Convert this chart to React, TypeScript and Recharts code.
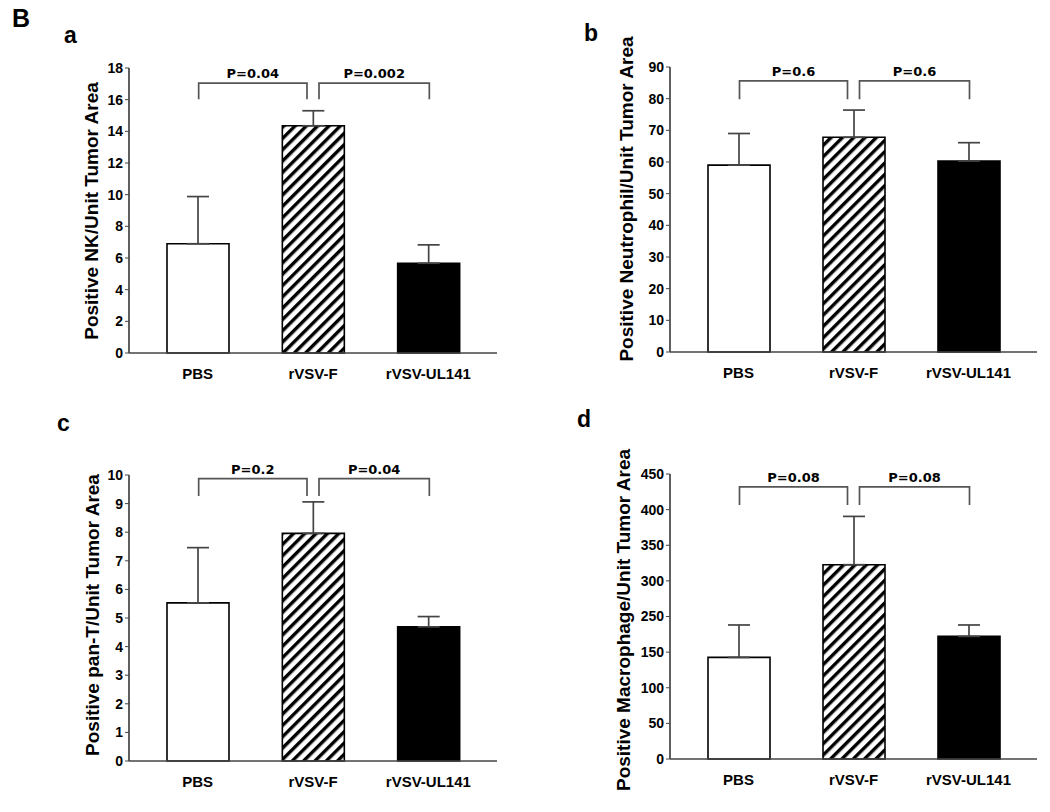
import { BarChart, Bar, XAxis, YAxis, Cell, ErrorBar, ReferenceLine, Label } from 'recharts';

const categories = ['PBS', 'rVSV-F', 'rVSV-UL141'];

// a: NK
const nkMeans = [6.9, 14.35, 5.67];
const nkErrors = [2.98, 0.95, 1.16];
const nkTicks = [0, 2, 4, 6, 8, 10, 12, 14, 16, 18];
const nkP = ['P=0.04', 'P=0.002'];
const nkBracket = [17.05, 16.03];

// b: neutrophil
const neuMeans = [59.0, 67.8, 60.3];
const neuErrors = [10.0, 8.6, 5.8];
const neuTicks = [0, 10, 20, 30, 40, 50, 60, 70, 80, 90];
const neuP = ['P=0.6', 'P=0.6'];
const neuBracket = [85.6, 79.8];

// c: pan-T
const panMeans = [5.53, 7.96, 4.69];
const panErrors = [1.93, 1.1, 0.36];
const panTicks = [0, 1, 2, 3, 4, 5, 6, 7, 8, 9, 10];
const panP = ['P=0.2', 'P=0.04'];
const panBracket = [9.87, 9.27];

// d: macrophage (tick labels as printed in the figure)
const macMeans = [142.6, 272.7, 172.1];
const macErrors = [45.5, 67.8, 16.0];
const macTicks = [0, 50, 100, 150, 200, 250, 300, 350, 400];
const macTickLabels = ['0', '50', '100', '150', '250', '300', '350', '400', '450'];
const macP = ['P=0.08', 'P=0.08'];
const macBracket = [382, 356.5];

const FONT = '"Liberation Sans", Arial, sans-serif';
const AXIS = '#444';

function bracketShape(label: string, dxA: number, dxB: number) {
  return (p: any) => {
    const xa = p.x1 + dxA;
    const xb = p.x2 + dxB;
    return (
      <g>
        <path d={`M${xa},${p.y2}V${p.y1}H${xb}V${p.y2}`} fill="none" stroke="#555" strokeWidth={1.7} />
        <text x={(xa + xb) / 2} y={p.y1 - 5} textAnchor="middle" fontFamily='"DejaVu Sans", sans-serif'
          fontWeight="bold" fontSize={13} fill="#000">{label}</text>
      </g>
    );
  };
}

type PanelProps = {
  id: string;
  letter: string;
  title: string;
  means: number[];
  errors: number[];
  ticks: number[];
  tickLabels?: string[];
  pLabels: string[];
  bracket: number[];
  left: number;
  top: number;
  margin: { top: number; right: number; bottom: number; left: number };
  titleX: number;
  titleY: number;
  letterX: number;
  letterY: number;
};

function Panel(props: PanelProps) {
  const { id, means, errors, ticks, tickLabels, pLabels, bracket } = props;
  const data = categories.map((c, i) => ({ name: c, mean: means[i], err: [0, errors[i]] }));
  const fills = ['#ffffff', `url(#hatch-${id})`, '#000000'];
  return (
    <div style={{ position: 'absolute', left: props.left, top: props.top, width: 525, height: 406 }}>
      <div style={{ position: 'absolute', left: props.letterX, top: props.letterY, fontFamily: FONT,
        fontWeight: 'bold', fontSize: 23, lineHeight: 1 }}>{props.letter}</div>
      <BarChart width={525} height={406} data={data} margin={props.margin}>
        <defs>
          <pattern id={`hatch-${id}`} patternUnits="userSpaceOnUse" width={8} height={8}
            patternTransform="rotate(45)">
            <rect x={0} y={0} width={8} height={8} fill="#fff" />
            <rect x={0} y={0} width={3.4} height={8} fill="#000" />
          </pattern>
        </defs>
        <XAxis dataKey="name" padding={{ left: 11, right: 11 }} tickLine={false}
          axisLine={{ stroke: AXIS, strokeWidth: 1.7 }} tickMargin={9} height={30}
          tick={{ fill: '#000', fontSize: 15, fontWeight: 'bold', fontFamily: FONT }} />
        <YAxis domain={[ticks[0], ticks[ticks.length - 1]]} ticks={ticks} interval={0} width={50}
          tickSize={4} tickMargin={2}
          tickFormatter={(v: number, i: number) => (tickLabels ? tickLabels[i] : String(v))}
          axisLine={{ stroke: AXIS, strokeWidth: 1.7 }} tickLine={{ stroke: AXIS }}
          tick={{ fill: '#000', fontSize: 14, fontWeight: 'bold', fontFamily: FONT }}>
          <Label content={() => (
            <text x={props.titleX} y={props.titleY} transform={`rotate(-90 ${props.titleX} ${props.titleY})`}
              textAnchor="middle" dominantBaseline="central" fontFamily={FONT} fontWeight="bold"
              fontSize={19} fill="#000">{props.title}</text>
          )} />
        </YAxis>
        <Bar dataKey="mean" barSize={62} stroke="#000" strokeWidth={1.6} isAnimationActive={false}>
          {data.map((d, i) => <Cell key={d.name} fill={fills[i]} />)}
          <ErrorBar dataKey="err" width={11} stroke={AXIS} strokeWidth={1.7} direction="y" />
        </Bar>
        <ReferenceLine segment={[{ x: categories[0], y: bracket[0] }, { x: categories[1], y: bracket[1] }]}
          shape={bracketShape(pLabels[0], 1, -6)} />
        <ReferenceLine segment={[{ x: categories[1], y: bracket[0] }, { x: categories[2], y: bracket[1] }]}
          shape={bracketShape(pLabels[1], 6, 1)} />
      </BarChart>
    </div>
  );
}

export default function App() {
  return (
    <div style={{ position: 'absolute', left: 0, top: 0, width: 1050, height: 812, background: '#fff' }}>
      <div style={{ position: 'absolute', left: 12, top: 6, fontFamily: FONT, fontWeight: 'bold',
        fontSize: 25, lineHeight: 1 }}>B</div>
      <Panel id="a" letter="a" title="Positive NK/Unit Tumor Area" means={nkMeans} errors={nkErrors}
        ticks={nkTicks} pLabels={nkP} bracket={nkBracket} left={0} top={0}
        margin={{ top: 68, right: 28, bottom: 23, left: 79 }} titleX={91} titleY={211} letterX={64} letterY={24} />
      <Panel id="b" letter="b" title="Positive Neutrophil/Unit Tumor Area" means={neuMeans} errors={neuErrors}
        ticks={neuTicks} pLabels={neuP} bracket={neuBracket} left={525} top={0}
        margin={{ top: 67, right: 13, bottom: 24, left: 95 }} titleX={101} titleY={199} letterX={59} letterY={22} />
      <Panel id="c" letter="c" title="Positive pan-T/Unit Tumor Area" means={panMeans} errors={panErrors}
        ticks={panTicks} pLabels={panP} bracket={panBracket} left={0} top={406}
        margin={{ top: 69, right: 28, bottom: 21, left: 79 }} titleX={92} titleY={209} letterX={57} letterY={6} />
      <Panel id="d" letter="d" title="Positive Macrophage/Unit Tumor Area" means={macMeans} errors={macErrors}
        ticks={macTicks} tickLabels={macTickLabels} pLabels={macP} bracket={macBracket} left={525} top={406}
        margin={{ top: 68, right: 13, bottom: 23, left: 95 }} titleX={98} titleY={214} letterX={52} letterY={2} />
    </div>
  );
}
